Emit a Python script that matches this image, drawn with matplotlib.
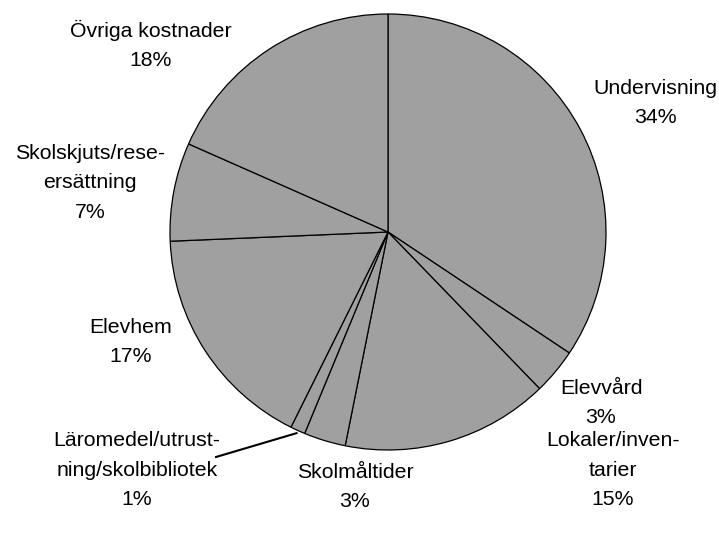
import matplotlib.pyplot as plt
import numpy as np

# kostnadsandelar (procent), medurs från kl. 12
categories = ["Undervisning", "Elevvård", "Lokaler/inven-\ntarier", "Skolmåltider",
              "Läromedel/utrust-\nning/skolbibliotek", "Elevhem",
              "Skolskjuts/rese-\nersättning", "Övriga kostnader"]
shares = [34.4, 3.4, 15.4, 3.1, 1.1, 17.0, 7.3, 18.4]

# label placement (pixels from top left)
label_pos = [(655, 103), (601, 403), (613, 470), (355, 487),
             (137, 470), (131, 342), (90, 183), (151, 45)]

W, H = 719, 536
fig = plt.figure(figsize=(W / 100, H / 100), dpi=100)
ax = fig.add_axes([0, 0, 1, 1])
ax.set_xlim(0, W)
ax.set_ylim(0, H)
ax.set_aspect('equal')
ax.axis('off')

cx, cy, r = 388, H - 232, 218
wedges, _ = ax.pie(shares, center=(cx, cy), radius=r, startangle=90, counterclock=False,
                   colors=['#a0a0a0'] * len(shares),
                   wedgeprops=dict(edgecolor='black', linewidth=0.9))
ax.set_xlim(0, W)
ax.set_ylim(0, H)

for cat, val, (x, y) in zip(categories, shares, label_pos):
    ax.text(x, H - y, "{}\n{}%".format(cat, int(round(val))), ha='center', va='center',
            fontsize=15.3, family='Liberation Sans', linespacing=1.7)

# leader line for the small slice
w = wedges[4]
mid = np.deg2rad((w.theta1 + w.theta2) / 2)
ax.plot([216, cx + (r + 3) * np.cos(mid)], [H - 457, cy + (r + 3) * np.sin(mid)],
        color='black', linewidth=1.5)

plt.savefig("out.png", dpi=100)
